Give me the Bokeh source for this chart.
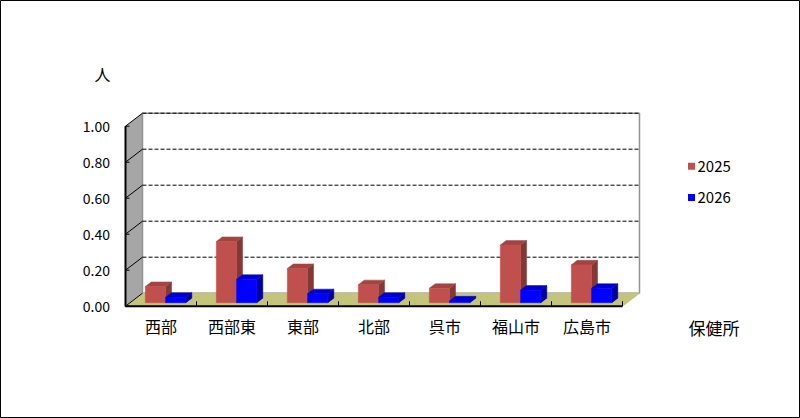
from bokeh.plotting import figure
from bokeh.models import Range1d
from bokeh.core.properties import value
from bokeh.embed import file_html
from bokeh.resources import INLINE

# ---------------- data ----------------
categories = ["西部", "西部東", "東部", "北部", "呉市", "福山市", "広島市"]
series_names = ["2025", "2026"]
values_2025 = [0.09, 0.34, 0.19, 0.10, 0.08, 0.32, 0.21]
values_2026 = [0.03, 0.13, 0.05, 0.03, 0.01, 0.07, 0.08]
y_ticks = [0.0, 0.2, 0.4, 0.6, 0.8, 1.0]
y_tick_labels = ["0.00", "0.20", "0.40", "0.60", "0.80", "1.00"]
y_unit = "人"
x_title = "保健所"

# ---------------- style / layout ----------------
W, H = 800, 418
PX_X = 71.0          # pixels per category
PX_Y = 180.0         # pixels per 1.0 value
OX, OY = 125.0, 305.7  # origin (category 0 / value 0) in canvas pixels (from top-left)
FONT = value("Noto Sans CJK JP")

def px(d):
    return d / PX_X

def py(d):
    return d / PX_Y

DX, DY = px(17), py(13)     # 3-D depth vector
FA, FB = 0.27, 0.62         # bar depth (fraction of depth)
BW = 1 / 3.5                # bar width (gap 150%)

COLORS = {
    "2025": ("#C0504D", "#A34441", "#843836"),
    "2026": ("#0000FF", "#0000CC", "#00009E"),
}

n = len(categories)
ymax = y_ticks[-1]

p = figure(width=W, height=H, output_backend="svg", toolbar_location=None,
           x_axis_location=None, y_axis_location=None,
           x_range=Range1d(-OX / PX_X, (W - OX) / PX_X),
           y_range=Range1d(-(H - OY) / PX_Y, OY / PX_Y),
           min_border=0)
p.grid.visible = False
p.background_fill_color = "white"
p.border_fill_color = "white"
p.outline_line_color = "black"
p.outline_line_width = 1

# left wall
p.patch([0, 0, DX, DX], [0, ymax, ymax + DY, DY], fill_color="#A6A6A6", line_color=None)
# back wall
p.quad(left=[DX], right=[n + DX], bottom=[DY], top=[ymax + DY],
       fill_color="white", line_color="#939393", line_width=1.5)
# floor
p.patch([0, n, n + DX, DX], [0, 0, DY, DY], fill_color="#C4C47C",
        line_color="#C4C47C", line_width=1)
p.line([DX, n + DX], [DY, DY], line_color="#B8B8B8", line_width=1)

# gridlines on back wall
grid_t = [t for t in y_ticks if t > 0]
p.multi_line(xs=[[DX, n + DX] for _ in grid_t], ys=[[t + DY, t + DY] for t in grid_t],
             line_color="black", line_width=1, line_dash="4 2")
# diagonal tick lines on left wall
p.multi_line(xs=[[0, DX] for _ in y_ticks], ys=[[t, t + DY] for t in y_ticks],
             line_color="black", line_width=1)

# bars
for s, (name, vals) in enumerate(zip(series_names, [values_2025, values_2026])):
    front_c, top_c, side_c = COLORS[name]
    bdx, bdy = (FB - FA) * DX, (FB - FA) * DY
    x0s, x1s, y0s, y1s = [], [], [], []
    top_xs, top_ys, side_xs, side_ys = [], [], [], []
    for i, v in enumerate(vals):
        x0 = i + 0.5 - BW + s * BW + FA * DX
        x1 = x0 + BW
        y0 = FA * DY
        y1 = y0 + v
        x0s.append(x0); x1s.append(x1); y0s.append(y0); y1s.append(y1)
        top_xs.append([x0, x1, x1 + bdx, x0 + bdx])
        top_ys.append([y1, y1, y1 + bdy, y1 + bdy])
        side_xs.append([x1, x1 + bdx, x1 + bdx, x1])
        side_ys.append([y0, y0 + bdy, y1 + bdy, y1])
    p.patches(side_xs, side_ys, fill_color=side_c, line_color=side_c, line_width=0.5)
    p.patches(top_xs, top_ys, fill_color=top_c, line_color=top_c, line_width=0.5)
    p.quad(left=x0s, right=x1s, bottom=y0s, top=y1s, fill_color=front_c,
           line_color=front_c, line_width=0.5)

# front axis lines
p.line([0, 0, n], [ymax, 0, 0], line_color="black", line_width=2)
# y ticks (inward)
p.segment(x0=[0] * len(y_ticks), y0=y_ticks, x1=[px(4)] * len(y_ticks), y1=y_ticks,
          line_color="black", line_width=1)
# x ticks between categories (inward)
p.segment(x0=list(range(1, n + 1)), y0=[0] * n, x1=list(range(1, n + 1)), y1=[py(5)] * n,
          line_color="black", line_width=1)

# tick labels
p.text(x=[px(-15.5)] * len(y_ticks), y=y_ticks, text=y_tick_labels,
       text_align="right", text_baseline="middle", text_font=FONT,
       text_font_size="14px", text_color="black")
p.text(x=[i + 0.5 for i in range(n)], y=[py(-20)] * n, text=categories,
       text_align="center", text_baseline="middle", text_font=FONT,
       text_font_size="16px", text_color="black")
p.text(x=[px(-23)], y=[py(232)], text=[y_unit], text_align="center",
       text_baseline="middle", text_font=FONT, text_font_size="16px", text_color="black")
p.text(x=[px(563)], y=[py(-21)], text=[x_title], text_align="left",
       text_baseline="middle", text_font=FONT, text_font_size="17px", text_color="black")

# legend
leg_y = [py(140), py(108.7)]
p.rect(x=[px(566)] * 2, y=leg_y, width=7, height=7, width_units="screen",
       height_units="screen", fill_color=[COLORS[s][0] for s in series_names], line_color=None)
p.text(x=[px(572)] * 2, y=leg_y, text=series_names, text_align="left",
       text_baseline="middle", text_font=FONT, text_font_size="15px", text_color="black")

open("out.html", "w").write(file_html(p, INLINE))
